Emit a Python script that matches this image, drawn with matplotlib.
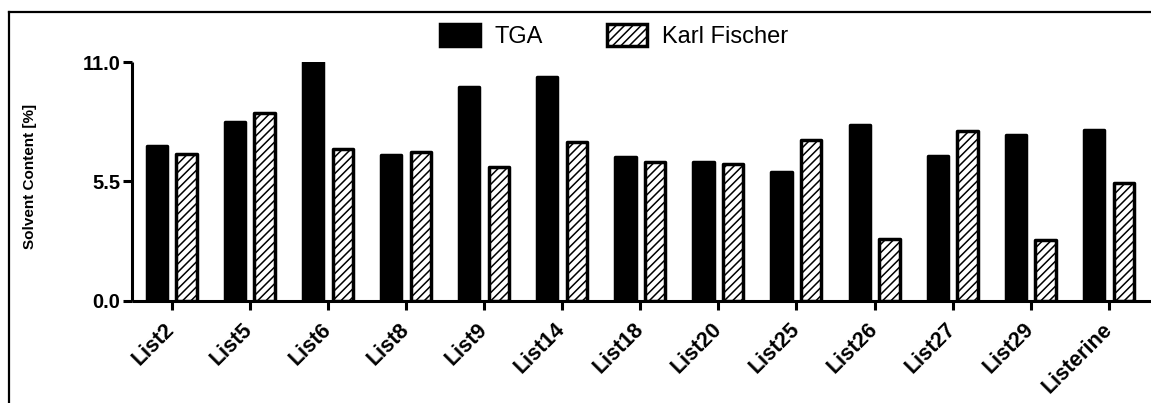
import matplotlib
matplotlib.use("Agg")
import matplotlib.pyplot as plt
from matplotlib.lines import Line2D
import numpy as np

plt.rcParams['font.family'] = ['Liberation Sans', 'DejaVu Sans']
plt.rcParams['hatch.linewidth'] = 1.1

categories = ["List2", "List5", "List6", "List8", "List9", "List14", "List18",
              "List20", "List25", "List26", "List27", "List29", "Listerine"]
tga = [7.15, 8.23, 11.0, 6.72, 9.88, 10.34, 6.64, 6.41, 5.92, 8.11, 6.67, 7.64, 7.88]
karl_fischer = [6.77, 8.65, 7.0, 6.87, 6.18, 7.31, 6.38, 6.29, 7.41, 2.84, 7.83, 2.79, 5.44]
series_names = ["TGA", "Karl Fischer"]
y_ticks = [0.0, 5.5, 11.0]

W, H = 1151, 403
fig = plt.figure(figsize=(W / 100, H / 100), dpi=100)

ax_left, ax_bottom = 132.3 / W, (H - 300.5) / H
ax_width, ax_height = 1 - ax_left, (300.5 - 62.3) / H
ax = fig.add_axes([ax_left, ax_bottom, ax_width, ax_height])

x = np.arange(len(categories))
bw = 0.26
edge_lw = 2.5
b1 = ax.bar(x - 0.19, tga, bw, color="black", edgecolor="black",
            linewidth=edge_lw, joinstyle="round", label=series_names[0], zorder=2)
b2 = ax.bar(x + 0.19, karl_fischer, bw, color="white", edgecolor="black",
            hatch="////", linewidth=edge_lw, joinstyle="round",
            label=series_names[1], zorder=2)

ax.set_xlim(-0.504, 12.54)
ax.set_ylim(0, 11)
ax.set_yticks(y_ticks)
ax.set_yticklabels([f"{v:.1f}" for v in y_ticks], fontsize=14.5, fontweight="bold")
ax.set_xticks(x)
ax.set_xticklabels(categories, fontsize=15.5, fontweight="bold",
                   rotation=45, ha="right", va="center", rotation_mode="anchor")

for side in ("top", "right"):
    ax.spines[side].set_visible(False)
for side in ("left", "bottom"):
    ax.spines[side].set_linewidth(2.2)
    ax.spines[side].set_capstyle("butt")
ax.tick_params(axis="both", direction="out", width=2.2, length=6.5)
ax.tick_params(axis="y", pad=2.0)
ax.tick_params(axis="x", pad=12)

fig.text(30 / W, 1 - 176 / H, "Solvent Content [%]", rotation=90,
         ha="center", va="center", fontsize=11, fontweight="bold")

fig.legend(handles=[b1, b2], labels=series_names, loc="center",
           bbox_to_anchor=(614 / W, 1 - 36 / H), ncol=2, frameon=False,
           fontsize=17, handlelength=1.7, handleheight=1.06,
           handletextpad=0.64, columnspacing=2.7)

# outer frame around the figure
fig.add_artist(Line2D([9 / W, 9 / W], [-0.05, 1 - 12 / H], color="black",
                      linewidth=1.6, transform=fig.transFigure))
fig.add_artist(Line2D([9 / W, 1.05], [1 - 12 / H, 1 - 12 / H], color="black",
                      linewidth=1.6, transform=fig.transFigure))

fig.savefig("out.png", dpi=100)
